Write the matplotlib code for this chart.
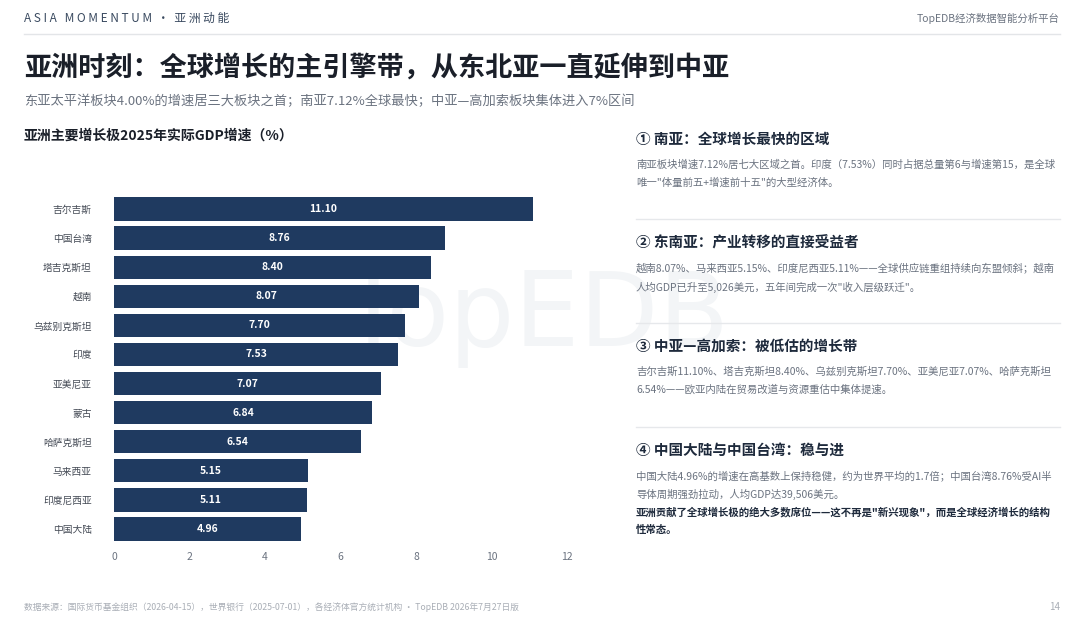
import matplotlib.pyplot as plt
from matplotlib.lines import Line2D

plt.rcParams['font.family'] = ['Noto Sans CJK SC', 'DejaVu Sans']

# data
countries = ['吉尔吉斯', '中国台湾', '塔吉克斯坦', '越南', '乌兹别克斯坦', '印度',
             '亚美尼亚', '蒙古', '哈萨克斯坦', '马来西亚', '印度尼西亚', '中国大陆']
growth = [11.10, 8.76, 8.40, 8.07, 7.70, 7.53, 7.07, 6.84, 6.54, 5.15, 5.11, 4.96]
x_ticks = [0, 2, 4, 6, 8, 10, 12]

sections = [
    ('① 南亚：全球增长最快的区域',
     ['南亚板块增速7.12%居七大区域之首。印度（7.53%）同时占据总量第6与增速第15，是全球',
      '唯一"体量前五+增速前十五"的大型经济体。'], []),
    ('② 东南亚：产业转移的直接受益者',
     ['越南8.07%、马来西亚5.15%、印度尼西亚5.11%——全球供应链重组持续向东盟倾斜；越南',
      '人均GDP已升至5,026美元，五年间完成一次"收入层级跃迁"。'], []),
    ('③ 中亚—高加索：被低估的增长带',
     ['吉尔吉斯11.10%、塔吉克斯坦8.40%、乌兹别克斯坦7.70%、亚美尼亚7.07%、哈萨克斯坦',
      '6.54%——欧亚内陆在贸易改道与资源重估中集体提速。'], []),
    ('④ 中国大陆与中国台湾：稳与进',
     ['中国大陆4.96%的增速在高基数上保持稳健，约为世界平均的1.7倍；中国台湾8.76%受AI半',
      '导体周期强劲拉动，人均GDP达39,506美元。'],
     ['亚洲贡献了全球增长极的绝大多数席位——这不再是"新兴现象"，而是全球经济增长的结构',
      '性常态。']),
]
section_tops = [139, 243, 346, 450]
separators = [219, 323, 427]

W, H = 1080, 620
navy = '#1f3a60'
dark = '#1e2a3c'
gray = '#6b7380'
light = '#a9aeb6'

fig = plt.figure(figsize=(W / 100, H / 100), dpi=100)
fig.patch.set_facecolor('white')


def fy(y):
    return 1 - y / H


def fx(x):
    return x / W


# watermark
fig.text(fx(535), fy(346), 'TopEDB', fontsize=74, color='#f3f5f7', ha='center', va='baseline',
         family='DejaVu Sans', zorder=-1)

# header
fig.text(fx(24), fy(18), 'A S I A   M O M E N T U M  ·  亚 洲 动 能', fontsize=8.5, color='#3a4a60',
         ha='left', va='center')
fig.text(fx(1060), fy(18), 'TopEDB经济数据智能分析平台', fontsize=7.5, color=gray, ha='right', va='center')
fig.add_artist(Line2D([fx(24), fx(1060)], [fy(34), fy(34)], color='#e3e5e8', lw=1))

fig.text(fx(24), fy(68), '亚洲时刻：全球增长的主引擎带，从东北亚一直延伸到中亚', fontsize=19.5,
         fontweight='bold', color='#1a1f29', ha='left', va='center')
fig.text(fx(24), fy(101), '东亚太平洋板块4.00%的增速居三大板块之首；南亚7.12%全球最快；中亚—高加索板块集体进入7%区间',
         fontsize=9.5, color=gray, ha='left', va='center')
fig.text(fx(24), fy(136), '亚洲主要增长极2025年实际GDP增速（%）', fontsize=10, fontweight='bold',
         color='#1a1f29', ha='left', va='center')

# bar chart
ax = fig.add_axes([fx(114), fy(545), fx(567) - fx(114), fy(193) - fy(545)])
ypos = list(range(len(countries)))
ax.barh(ypos, growth, height=0.8, color=navy, zorder=2)
for yy, v in zip(ypos, growth):
    ax.text(v / 2, yy, f'{v:.2f}', color='white', ha='center', va='center', fontsize=7.5,
            fontweight='bold')
ax.set_yticks(ypos)
ax.set_yticklabels(countries, fontsize=7, color='#444a55')
ax.set_ylim(len(countries) - 0.5 + 0.05, -0.5 - 0.05)
ax.set_xlim(0, 12)
ax.set_xticks(x_ticks)
ax.set_xticklabels([str(t) for t in x_ticks], fontsize=7.5, color=gray)
ax.tick_params(axis='x', length=0, pad=5)
ax.tick_params(axis='y', length=0, pad=16)
for s in ax.spines.values():
    s.set_visible(False)
ax.set_facecolor('none')

# right panel
for (head, body, strong), top in zip(sections, section_tops):
    fig.text(fx(636), fy(top), head, fontsize=10.5, fontweight='bold', color=dark, ha='left', va='center')
    y = top + 26
    for line in body:
        fig.text(fx(636), fy(y), line, fontsize=7.5, color=gray, ha='left', va='center')
        y += 18
    for line in strong:
        fig.text(fx(636), fy(y), line, fontsize=7.5, color=dark, fontweight='bold', ha='left', va='center')
        y += 18
for sy in separators:
    fig.add_artist(Line2D([fx(636), fx(1060)], [fy(sy), fy(sy)], color='#e6e8eb', lw=1))

# footer
fig.text(fx(24), fy(607), '数据来源：国际货币基金组织（2026-04-15），世界银行（2025-07-01），各经济体官方统计机构 · TopEDB 2026年7月27日版',
         fontsize=6.3, color=light, ha='left', va='center')
fig.text(fx(1060), fy(607), '14', fontsize=7, color=light, ha='right', va='center')

fig.savefig('out.png', dpi=100, facecolor='white')
